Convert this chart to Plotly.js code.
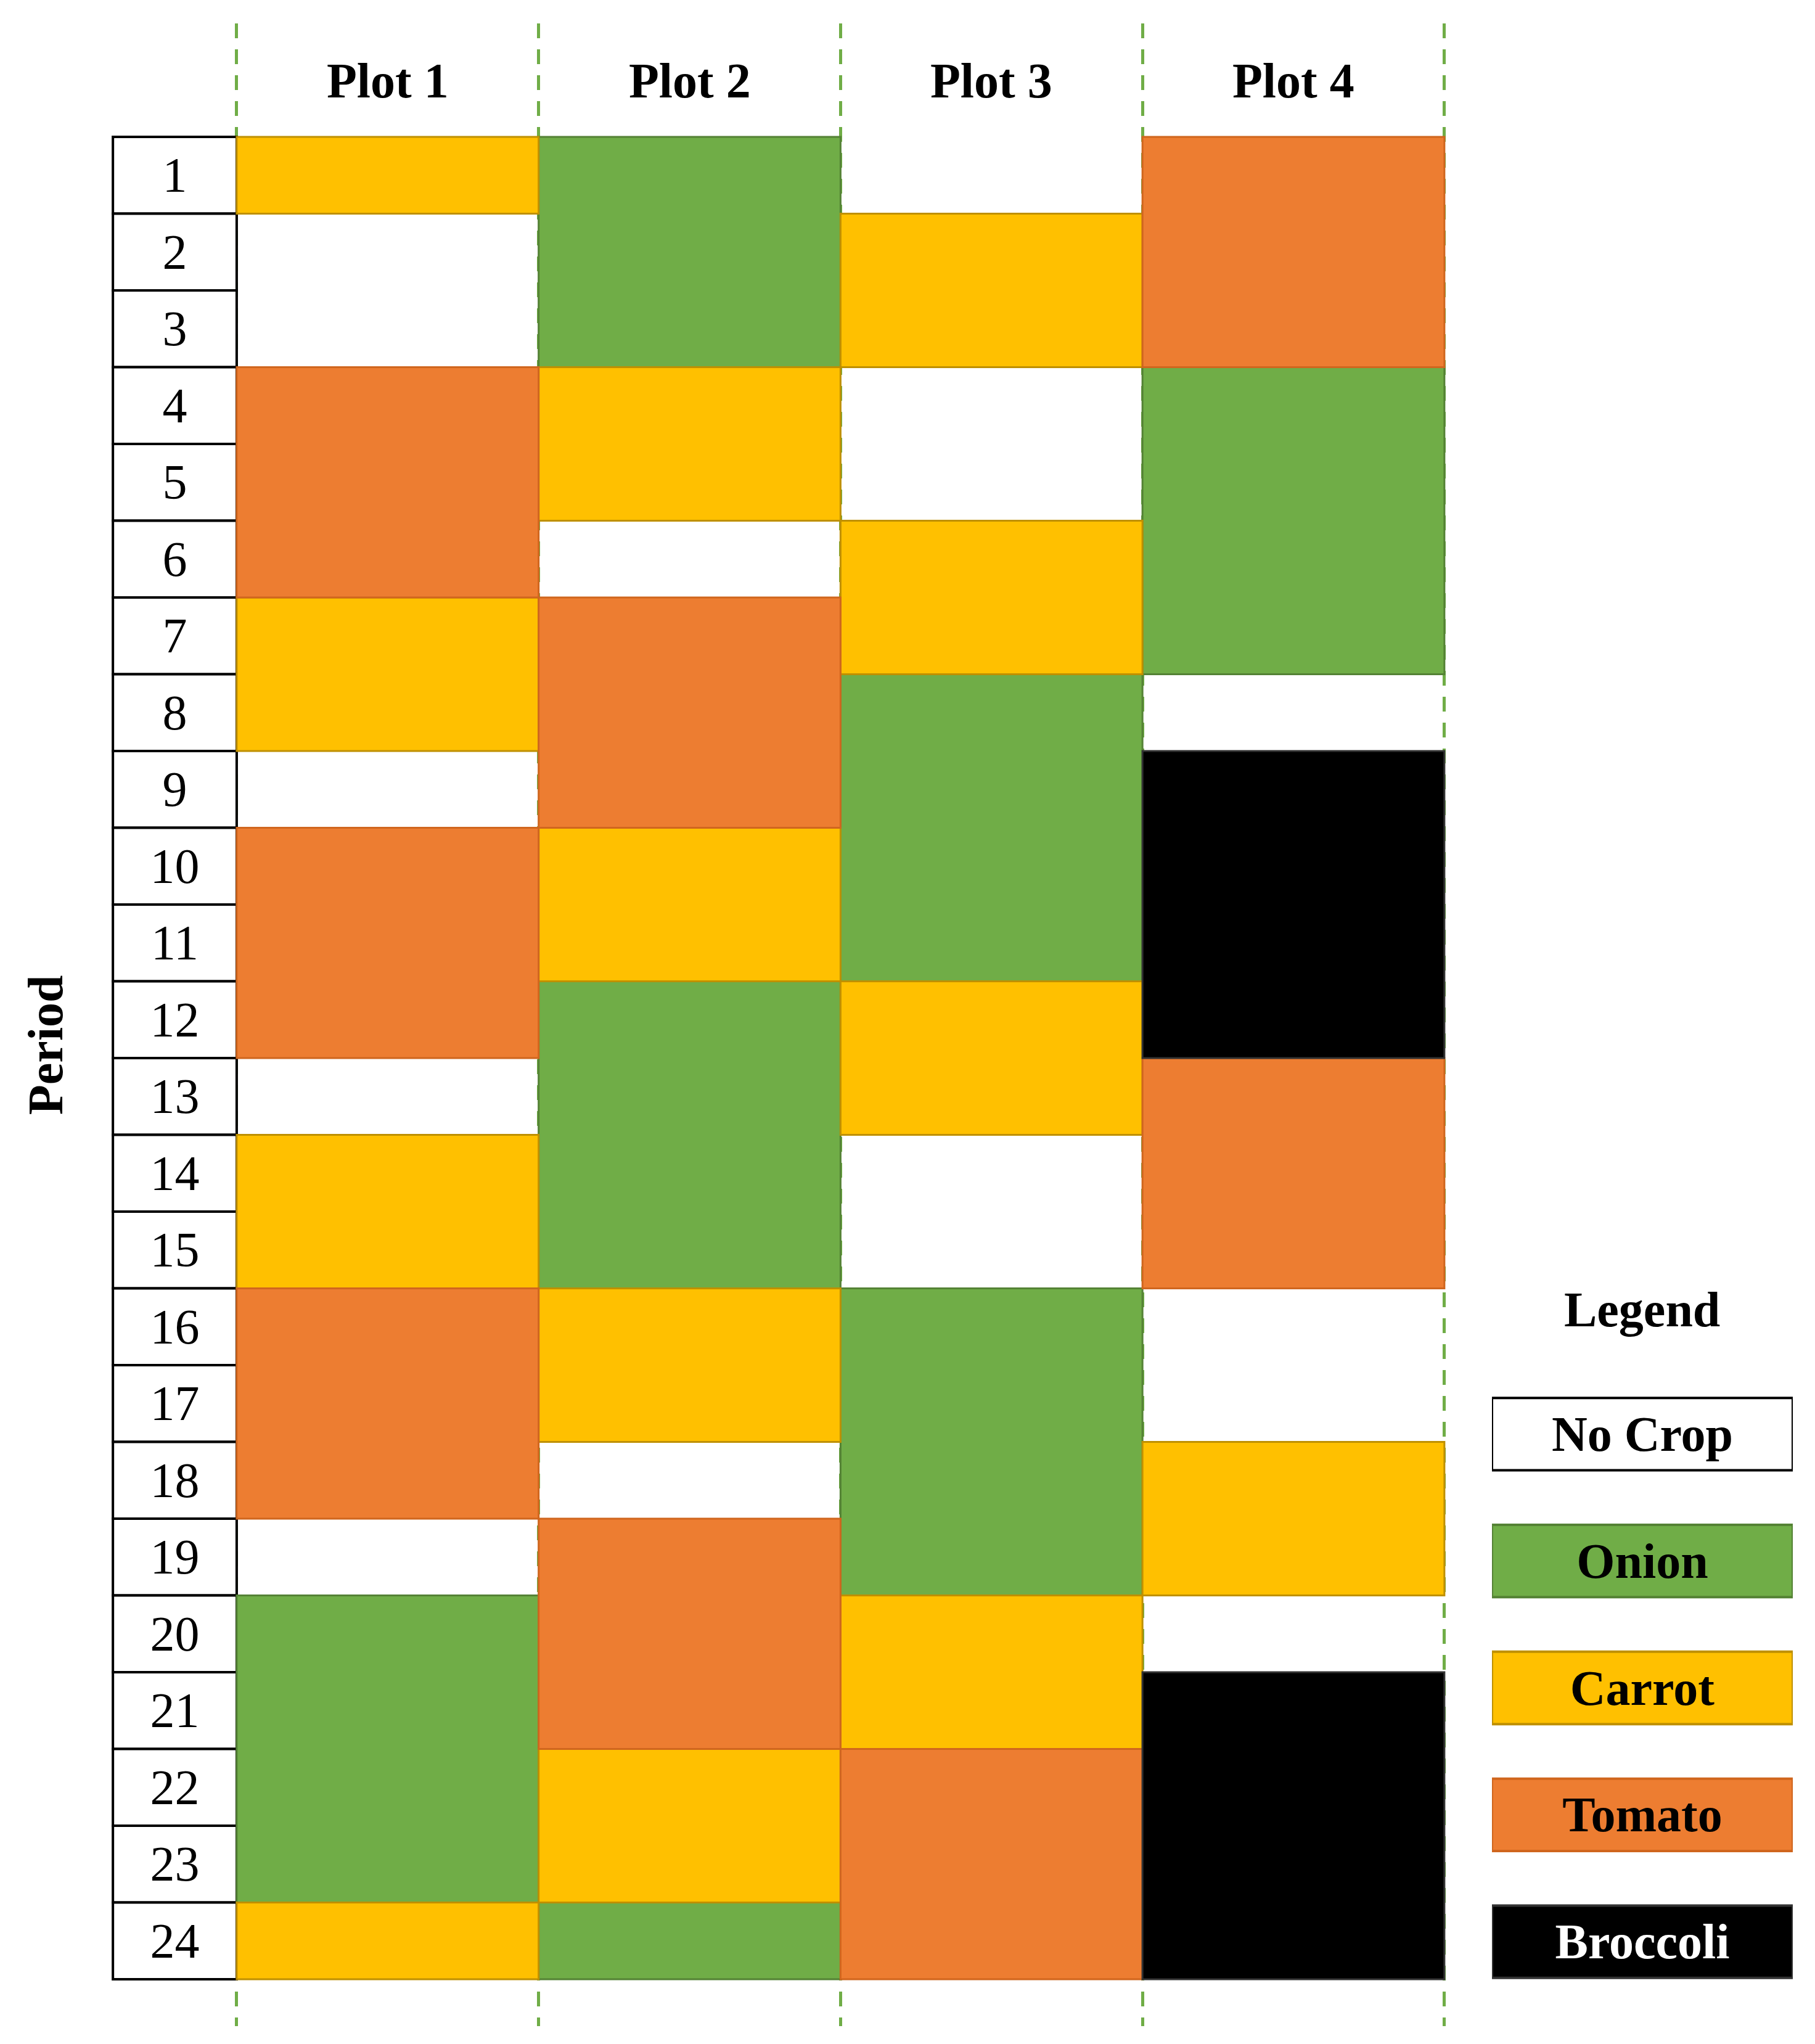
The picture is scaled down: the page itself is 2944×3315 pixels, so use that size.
<!DOCTYPE html>
<html>
<head>
<meta charset="utf-8">
<script src="https://cdn.plot.ly/plotly-3.0.1.min.js"></script>
<style>
  body { margin: 0; background: #fff; }
  #plot { width: 2944px; height: 3315px; }
</style>
</head>
<body>
<div id="plot"></div>
<script>
// Periods down the left column
var periods = [1, 2, 3, 4, 5, 6, 7, 8, 9, 10, 11, 12, 13, 14, 15, 16, 17, 18, 19, 20, 21, 22, 23, 24];

// Plot headers
var plotNames = ["Plot 1", "Plot 2", "Plot 3", "Plot 4"];

// Crop blocks: which plot, which crop, first and last period
var segPlot  = [1, 1, 1, 1, 1, 1, 1, 1,
                2, 2, 2, 2, 2, 2, 2, 2, 2,
                3, 3, 3, 3, 3, 3, 3,
                4, 4, 4, 4, 4, 4];
var segCrop  = ["Carrot", "Tomato", "Carrot", "Tomato", "Carrot", "Tomato", "Onion", "Carrot",
                "Onion", "Carrot", "Tomato", "Carrot", "Onion", "Carrot", "Tomato", "Carrot", "Onion",
                "Carrot", "Carrot", "Onion", "Carrot", "Onion", "Carrot", "Tomato",
                "Tomato", "Onion", "Broccoli", "Tomato", "Carrot", "Broccoli"];
var segStart = [1, 4, 7, 10, 14, 16, 20, 24,
                1, 4, 7, 10, 12, 16, 19, 22, 24,
                2, 6, 8, 12, 16, 20, 22,
                1, 4, 9, 13, 18, 21];
var segEnd   = [1, 6, 8, 12, 15, 18, 23, 24,
                3, 5, 9, 11, 15, 17, 21, 23, 24,
                3, 7, 11, 13, 19, 21, 24,
                3, 7, 12, 15, 19, 24];

// Legend entries
var legendItems = ["No Crop", "Onion", "Carrot", "Tomato", "Broccoli"];

var fill = {"No Crop": "#FFFFFF", "Onion": "#70AD47", "Carrot": "#FFC000", "Tomato": "#ED7D31", "Broccoli": "#000000"};
var edge = {"No Crop": "#000000", "Onion": "#548235", "Carrot": "#BF9000", "Tomato": "#D0661E", "Broccoli": "#333333"};
var serif = "Liberation Serif, Times New Roman, serif";

var traces = [];

// Period column
traces.push({
  type: "bar",
  x: periods.map(function(p) { return 0.295; }),
  base: periods.map(function(p) { return p - 1; }),
  y: periods.map(function(p) { return 1; }),
  width: 0.41,
  text: periods.map(String),
  textposition: "inside",
  insidetextanchor: "middle",
  textangle: 0,
  constraintext: "none",
  textfont: {family: serif, size: 80, color: "#000"},
  marker: {color: "#fff", line: {color: "#000", width: 4}},
  hoverinfo: "skip",
  showlegend: false
});

// One trace per crop
["Onion", "Carrot", "Tomato", "Broccoli"].forEach(function(crop) {
  var idx = [];
  segCrop.forEach(function(c, i) { if (c === crop) idx.push(i); });
  traces.push({
    type: "bar",
    name: crop,
    x: idx.map(function(i) { return segPlot[i]; }),
    base: idx.map(function(i) { return segStart[i] - 1; }),
    y: idx.map(function(i) { return segEnd[i] - segStart[i] + 1; }),
    width: 1,
    marker: {color: fill[crop], line: {color: edge[crop], width: 3}},
    hoverinfo: "skip",
    showlegend: false
  });
});

// Legend boxes as a small horizontal bar chart
traces.push({
  type: "bar",
  orientation: "h",
  xaxis: "x2",
  yaxis: "y2",
  y: legendItems,
  x: legendItems.map(function() { return 1; }),
  width: 0.57,
  text: legendItems,
  textposition: "inside",
  insidetextanchor: "middle",
  textangle: 0,
  constraintext: "none",
  textfont: {family: serif, size: 80, weight: "bold",
             color: legendItems.map(function(l) { return l === "Broccoli" ? "#fff" : "#000"; })},
  marker: {color: legendItems.map(function(l) { return fill[l]; }),
           line: {color: legendItems.map(function(l) { return edge[l]; }), width: 4}},
  hoverinfo: "skip",
  showlegend: false
});

var annotations = plotNames.map(function(name, i) {
  return {
    x: i + 1, y: -0.73, xref: "x", yref: "y",
    text: name, showarrow: false,
    font: {family: serif, size: 80, weight: "bold", color: "#000"}
  };
});
annotations.push({
  x: 74 / 2944, y: 1 - 1695 / 3315, xref: "paper", yref: "paper",
  xanchor: "center", yanchor: "middle",
  text: "Period", textangle: -90, showarrow: false,
  font: {family: serif, size: 80, weight: "bold", color: "#000"}
});
annotations.push({
  x: 2663 / 2944, y: 1 - 2124 / 3315, xref: "paper", yref: "paper",
  xanchor: "center", yanchor: "middle",
  text: "Legend", showarrow: false,
  font: {family: serif, size: 80, weight: "bold", color: "#000"}
});

var layout = {
  width: 2944,
  height: 3315,
  margin: {l: 0, r: 0, t: 0, b: 0},
  paper_bgcolor: "#fff",
  plot_bgcolor: "rgba(0,0,0,0)",
  barmode: "overlay",
  showlegend: false,
  xaxis: {
    domain: [142 / 2944, 2360 / 2944],
    range: [0.006, 4.535],
    tickvals: [0.5, 1.5, 2.5, 3.5, 4.5],
    showticklabels: false,
    ticks: "",
    showgrid: true,
    gridcolor: "#70AD47",
    gridwidth: 5,
    griddash: "24px,18px",
    zeroline: false,
    showline: false
  },
  yaxis: {
    domain: [1 - 3286 / 3315, 1 - 38 / 3315],
    range: [24.61, -1.478],
    showgrid: false,
    showticklabels: false,
    zeroline: false,
    showline: false
  },
  xaxis2: {
    domain: [2420 / 2944, 2908 / 2944],
    range: [0, 1],
    anchor: "y2",
    showgrid: false, showticklabels: false, zeroline: false, showline: false
  },
  yaxis2: {
    domain: [1 - 3252 / 3315, 1 - 2223 / 3315],
    anchor: "x2",
    type: "category",
    autorange: "reversed",
    showgrid: false, showticklabels: false, zeroline: false, showline: false
  },
  annotations: annotations
};

Plotly.newPlot("plot", traces, layout, {staticPlot: true});
</script>
</body>
</html>
